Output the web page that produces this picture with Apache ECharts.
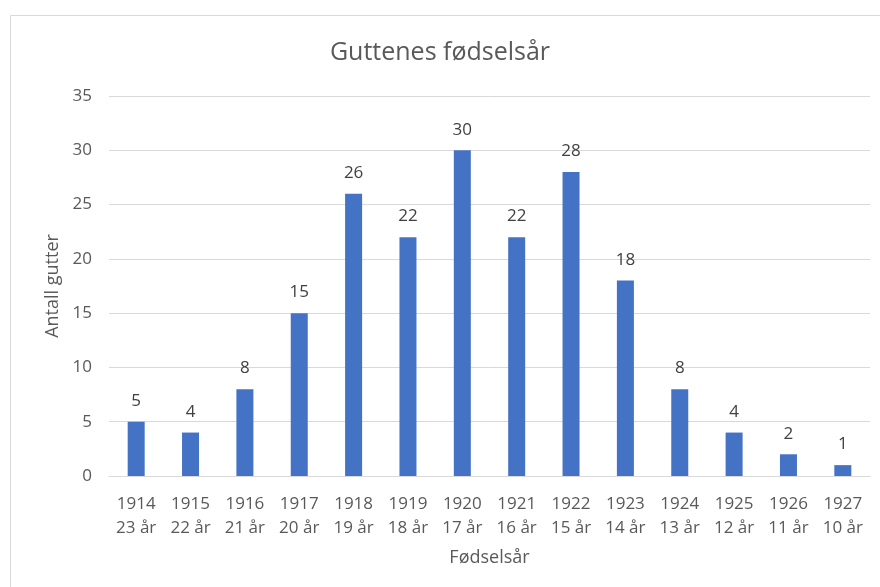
<!DOCTYPE html>
<html>
<head>
<meta charset="utf-8">
<script src="https://cdn.jsdelivr.net/npm/echarts@6/dist/echarts.min.js"></script>
<style>
html, body { margin: 0; padding: 0; background: #fff; }
#container { width: 880px; height: 587px; }
</style>
</head>
<body>
<div id="container"></div>
<script>
var years = ['1914', '1915', '1916', '1917', '1918', '1919', '1920', '1921', '1922', '1923', '1924', '1925', '1926', '1927'];
var ages = ['23 år', '22 år', '21 år', '20 år', '19 år', '18 år', '17 år', '16 år', '15 år', '14 år', '13 år', '12 år', '11 år', '10 år'];
var boys = [5, 4, 8, 15, 26, 22, 30, 22, 28, 18, 8, 4, 2, 1];

var categories = years.map(function (y, i) { return y + '\n' + ages[i]; });
var font = '"Open Sans", "DejaVu Sans", sans-serif';

var myChart = echarts.init(document.getElementById('container'));
var option = {
    animation: false,
    textStyle: { fontFamily: font },
    graphic: [{
        type: 'rect',
        shape: { x: 10.5, y: 15.5, width: 900, height: 600 },
        style: { fill: 'none', stroke: '#d9d9d9', lineWidth: 1 },
        silent: true
    }],
    title: {
        text: 'Guttenes fødselsår',
        left: 'center',
        top: 35,
        textStyle: { fontFamily: font, fontSize: 25, fontWeight: 'normal', color: '#595959' }
    },
    grid: { left: 109, right: 10, top: 96, bottom: 111, containLabel: false },
    xAxis: {
        type: 'category',
        data: categories,
        name: 'Fødselsår',
        nameLocation: 'middle',
        nameGap: 73,
        nameTextStyle: { fontFamily: font, fontSize: 18, color: '#595959' },
        axisLine: { lineStyle: { color: '#d9d9d9' } },
        axisTick: { show: false },
        axisLabel: { fontFamily: font, fontSize: 17, color: '#595959', lineHeight: 24, margin: 16, interval: 0 }
    },
    yAxis: {
        type: 'value',
        min: 0,
        max: 35,
        interval: 5,
        name: 'Antall gutter',
        nameLocation: 'middle',
        nameGap: 47,
        nameTextStyle: { fontFamily: font, fontSize: 18, color: '#595959' },
        axisLine: { show: false },
        axisTick: { show: false },
        axisLabel: { fontFamily: font, fontSize: 17, color: '#595959', margin: 17 },
        splitLine: { lineStyle: { color: '#d9d9d9', width: 1 } }
    },
    series: [{
        type: 'bar',
        data: boys,
        barWidth: 17,
        itemStyle: { color: '#4472c4' },
        label: {
            show: true,
            position: 'top',
            distance: 12,
            fontFamily: font,
            fontSize: 17,
            color: '#404040'
        }
    }]
};
myChart.setOption(option);
</script>
</body>
</html>
